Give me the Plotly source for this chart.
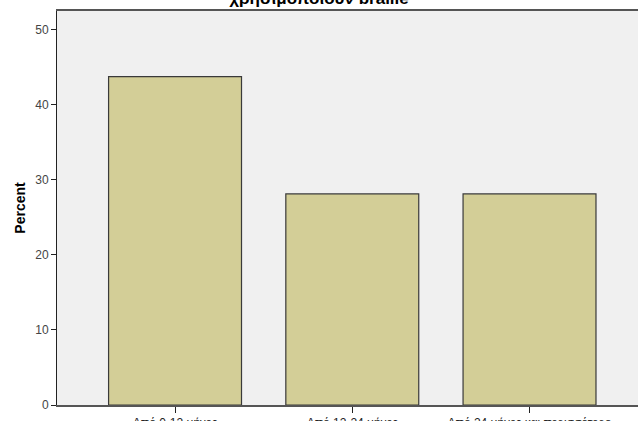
import plotly.graph_objects as go

categories = ["Από 0-12 μήνες", "Από 12-24 μήνες", "Από 24 μήνες και περισσότερο"]
percent = [43.75, 28.125, 28.125]
title_text = "χρησιμοποιούν braille"
y_ticks = [0, 10, 20, 30, 40, 50]

fig = go.Figure()
fig.add_trace(go.Bar(
    x=[0, 1, 2],
    y=percent,
    width=0.75,
    marker=dict(color="#D3CE97", line=dict(color="#3a3a3a", width=1.2)),
    hoverinfo="y",
))

fig.update_layout(
    width=638, height=421,
    margin=dict(l=57, r=0, t=11, b=16, pad=0, autoexpand=False),
    paper_bgcolor="white",
    plot_bgcolor="#F0F0F0",
    font=dict(family="Liberation Sans, Arial, sans-serif", size=12, color="#222"),
    showlegend=False,
    title=dict(text="<b>" + title_text + "</b>", x=0.5, xref="container", xanchor="center",
               y=1 - 4 / 421, yref="container", yanchor="bottom",
               font=dict(size=17, color="black"), automargin=False),
    bargap=0.25,
)
fig.update_xaxes(
    range=[-0.666, 2.612],
    tickmode="array", tickvals=[0, 1, 2], ticktext=categories,
    ticks="outside", ticklen=6, tickcolor="#222", tickwidth=1,
    showline=True, linecolor="#555", linewidth=1.5, mirror=True,
    showgrid=False, zeroline=False, fixedrange=True, automargin=False,
    tickfont=dict(size=12, color="#222"),
)
fig.update_yaxes(
    range=[0, 52.5],
    tickmode="array", tickvals=y_ticks,
    ticks="outside", ticklen=5, tickcolor="#222", tickwidth=1,
    showline=True, linecolor="#222", linewidth=1,
    showgrid=False, zeroline=False, fixedrange=True, automargin=False,
    tickfont=dict(size=12, color="#444"),
    title=dict(text="<b>Percent</b>", font=dict(size=14, color="black"), standoff=6),
)

fig.write_html(
    "out.html",
    config={"displayModeBar": False},
    post_script="document.body.style.margin='0';document.body.style.overflow='hidden';",
)
